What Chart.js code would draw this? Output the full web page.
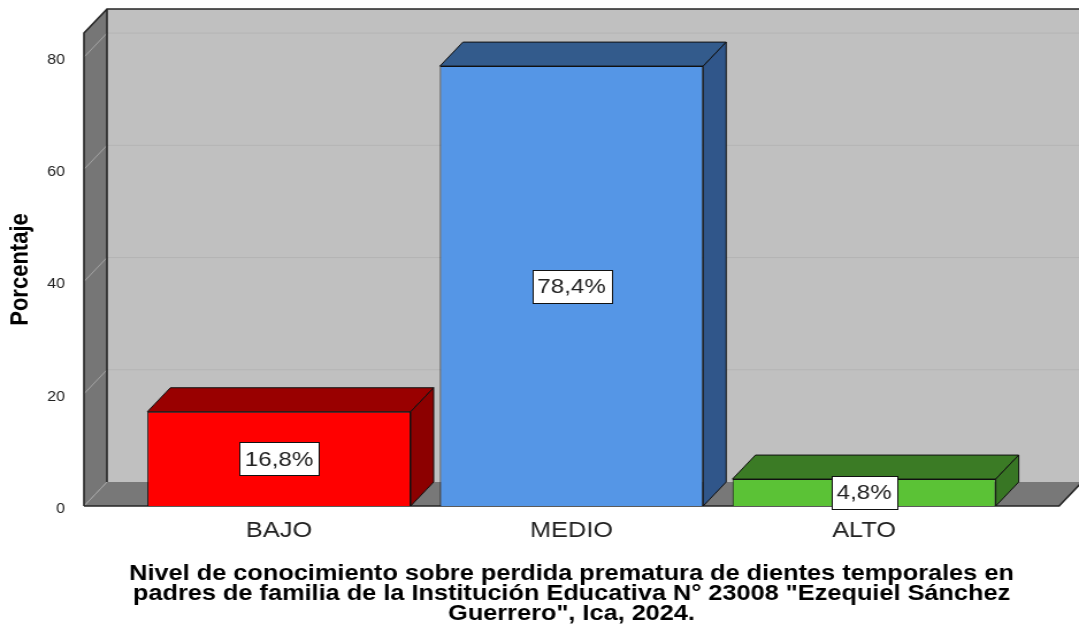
<!DOCTYPE html>
<html><head><meta charset="utf-8">
<script src="https://cdn.jsdelivr.net/npm/chart.js@4.4.1/dist/chart.umd.min.js"></script>
<style>
html,body{margin:0;padding:0;background:#fff;overflow:hidden;}
#wrap{width:938px;height:627px;transform:scaleX(1.15032);transform-origin:0 0;}
canvas{display:block;}
</style></head><body>
<div id="wrap"><canvas id="c" width="938" height="627"></canvas></div>
<script>
// ---- data ----
const categories = ['BAJO', 'MEDIO', 'ALTO'];
const percentages = [16.8, 78.4, 4.8];
const yTicks = [0, 20, 40, 60, 80];
const yAxisTitle = 'Porcentaje';
const xAxisTitle = [
  'Nivel de conocimiento sobre perdida prematura de dientes temporales en',
  'padres de familia de la Institución Educativa N° 23008 "Ezequiel Sánchez',
  'Guerrero", Ica, 2024.'
];

// ---- style ----
const FONT = "'Liberation Sans', Arial, sans-serif";
const frontColors = ['#ff0000', '#5596e6', '#5bc236'];
const topColors = ['#990000', '#335b8c', '#3b7b25'];
const sideColors = ['#8c0000', '#30568a', '#387624'];
const DX = 20, DY = -24;

function poly(ctx, pts, fill, stroke, lw) {
  ctx.beginPath();
  ctx.moveTo(pts[0][0], pts[0][1]);
  for (let i = 1; i < pts.length; i++) ctx.lineTo(pts[i][0], pts[i][1]);
  ctx.closePath();
  if (fill) { ctx.fillStyle = fill; ctx.fill(); }
  if (stroke) { ctx.strokeStyle = stroke; ctx.lineWidth = lw || 1; ctx.stroke(); }
}

const threeD = {
  id: 'threeD',
  beforeDatasetsDraw(chart) {
    const ctx = chart.ctx;
    const {left: L, right: R, top: T, bottom: B} = chart.chartArea;
    const ys = chart.scales.y;
    ctx.save();
    poly(ctx, [[L + DX, T + DY], [R + DX, T + DY], [R + DX, B + DY], [L + DX, B + DY]], '#c0c0c0');
    poly(ctx, [[L, B], [L + DX, B + DY], [R + DX, B + DY], [R, B]], '#787878');
    poly(ctx, [[L, T], [L + DX, T + DY], [L + DX, B + DY], [L, B]], '#767676');
    yTicks.forEach(v => {
      const y = ys.getPixelForValue(v);
      ctx.lineWidth = 1;
      ctx.strokeStyle = '#a4a4a4';
      ctx.beginPath(); ctx.moveTo(L, y); ctx.lineTo(L + DX, y + DY); ctx.stroke();
      if (v > 0) {
        ctx.strokeStyle = '#b4b4b4';
        ctx.beginPath(); ctx.moveTo(L + DX, y + DY); ctx.lineTo(R + DX, y + DY); ctx.stroke();
      }
    });
    ctx.strokeStyle = '#262626';
    ctx.lineWidth = 1.6;
    ctx.beginPath();
    ctx.moveTo(L, B); ctx.lineTo(L, T); ctx.lineTo(L + DX, T + DY); ctx.lineTo(R + DX + 5, T + DY);
    ctx.moveTo(L + DX, T + DY); ctx.lineTo(L + DX, B + DY);
    ctx.moveTo(L, B); ctx.lineTo(R, B); ctx.lineTo(R + DX, B + DY);
    ctx.stroke();
    ctx.restore();
  },
  afterDatasetsDraw(chart) {
    const ctx = chart.ctx;
    const meta = chart.getDatasetMeta(0);
    ctx.save();
    meta.data.forEach((el, i) => {
      const p = el.getProps(['x', 'y', 'base', 'width'], true);
      const l = p.x - p.width / 2, r = p.x + p.width / 2, t = p.y, b = p.base;
      poly(ctx, [[l, t], [l + DX, t + DY], [r + DX, t + DY], [r, t]], topColors[i], '#111', 1);
      poly(ctx, [[r, t], [r + DX, t + DY], [r + DX, b + DY], [r, b]], sideColors[i], '#111', 1);
    });
    ctx.font = '21px ' + FONT;
    ctx.textAlign = 'center';
    ctx.textBaseline = 'middle';
    meta.data.forEach((el, i) => {
      const p = el.getProps(['x', 'y', 'base'], true);
      const txt = percentages[i].toFixed(1).replace('.', ',') + '%';
      const w = ctx.measureText(txt).width + 9;
      const h = 33;
      const cy = (p.y + p.base) / 2;
      ctx.fillStyle = '#fff';
      ctx.fillRect(Math.round(p.x - w / 2) + 0.5, Math.round(cy - h / 2) + 0.5, Math.round(w), h);
      ctx.strokeStyle = '#111'; ctx.lineWidth = 1;
      ctx.strokeRect(Math.round(p.x - w / 2) + 0.5, Math.round(cy - h / 2) + 0.5, Math.round(w), h);
      ctx.fillStyle = '#222';
      ctx.fillText(txt, p.x, cy + 1);
    });
    ctx.restore();
  }
};

new Chart(document.getElementById('c'), {
  type: 'bar',
  data: {
    datasets: [{
      data: categories.map((c, i) => ({x: i, y: percentages[i]})),
      backgroundColor: frontColors,
      borderColor: '#111',
      borderWidth: 1,
      barPercentage: 0.9,
      categoryPercentage: 1.0
    }]
  },
  options: {
    responsive: false,
    animation: false,
    events: [],
    layout: {padding: {top: 33, right: 17.3, left: 0, bottom: 0}},
    plugins: {legend: {display: false}, tooltip: {enabled: false}},
    scales: {
      x: {
        type: 'linear', min: -2 / 3, max: 8 / 3, offset: false,
        afterBuildTicks: s => { s.ticks = categories.map((c, i) => ({value: i})); },
        afterFit: s => { s.height = 121; },
        grid: {display: false}, border: {display: false},
        ticks: {
          callback: v => categories[v],
          font: {family: FONT, size: 22}, color: '#222',
          padding: 4, autoSkip: false, maxRotation: 0
        },
        title: {
          display: true, text: xAxisTitle, color: '#000',
          font: {family: FONT, size: 22, weight: 'bold', lineHeight: '20px'},
          padding: {top: 0, bottom: 3.5}
        }
      },
      y: {
        type: 'linear', min: 0, max: 84.3,
        afterBuildTicks: s => { s.ticks = yTicks.map(v => ({value: v})); },
        afterFit: s => { s.width = 73; },
        grid: {display: false}, border: {display: false},
        ticks: {font: {family: FONT, size: 14}, color: '#222', padding: 8.4, labelOffset: 3},
        title: {
          display: true, text: yAxisTitle, color: '#000',
          font: {family: FONT, size: 22, weight: 'bold', lineHeight: 1},
          padding: {top: 7, bottom: 0}
        }
      }
    }
  },
  plugins: [threeD]
});
</script>
</body></html>
